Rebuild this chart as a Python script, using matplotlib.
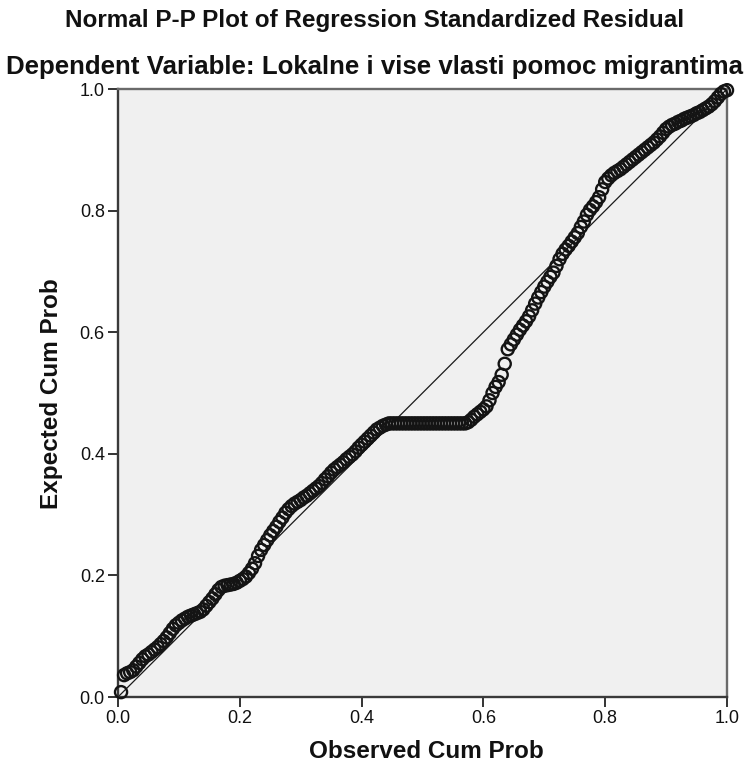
import matplotlib
matplotlib.use("Agg")
import matplotlib.pyplot as plt

plt.rcParams['font.family'] = ['Liberation Sans', 'DejaVu Sans']

# Observed cumulative probability of each standardized residual
observed_cum_prob = [
    0.005, 0.010, 0.015, 0.020, 0.025, 0.030, 0.035, 0.040, 0.045, 0.050,
    0.055, 0.060, 0.065, 0.070, 0.075, 0.080, 0.085, 0.090, 0.095, 0.100,
    0.105, 0.110, 0.115, 0.120, 0.125, 0.130, 0.135, 0.140, 0.145, 0.150,
    0.155, 0.160, 0.165, 0.170, 0.175, 0.180, 0.185, 0.190, 0.195, 0.200,
    0.205, 0.210, 0.215, 0.220, 0.225, 0.230, 0.235, 0.240, 0.245, 0.250,
    0.255, 0.260, 0.265, 0.270, 0.275, 0.280, 0.285, 0.290, 0.295, 0.300,
    0.305, 0.310, 0.315, 0.320, 0.325, 0.330, 0.335, 0.340, 0.345, 0.350,
    0.355, 0.360, 0.365, 0.370, 0.375, 0.380, 0.385, 0.390, 0.395, 0.400,
    0.405, 0.410, 0.415, 0.420, 0.425, 0.430, 0.435, 0.440, 0.445, 0.450,
    0.455, 0.460, 0.465, 0.470, 0.475, 0.480, 0.485, 0.490, 0.495, 0.500,
    0.505, 0.510, 0.515, 0.520, 0.525, 0.530, 0.535, 0.540, 0.545, 0.550,
    0.555, 0.560, 0.565, 0.570, 0.575, 0.580, 0.585, 0.590, 0.595, 0.600,
    0.605, 0.610, 0.615, 0.620, 0.625, 0.630, 0.635, 0.640, 0.645, 0.650,
    0.655, 0.660, 0.665, 0.670, 0.675, 0.680, 0.685, 0.690, 0.695, 0.700,
    0.705, 0.710, 0.715, 0.720, 0.725, 0.730, 0.735, 0.740, 0.745, 0.750,
    0.755, 0.760, 0.765, 0.770, 0.775, 0.780, 0.785, 0.790, 0.795, 0.800,
    0.805, 0.810, 0.815, 0.820, 0.825, 0.830, 0.835, 0.840, 0.845, 0.850,
    0.855, 0.860, 0.865, 0.870, 0.875, 0.880, 0.885, 0.890, 0.895, 0.900,
    0.905, 0.910, 0.915, 0.920, 0.925, 0.930, 0.935, 0.940, 0.945, 0.950,
    0.955, 0.960, 0.965, 0.970, 0.975, 0.980, 0.985, 0.990, 0.995, 1.000,
]

# Expected cumulative probability under the normal distribution
expected_cum_prob = [
    0.008, 0.036, 0.039, 0.041, 0.044, 0.050, 0.056, 0.062, 0.067, 0.070,
    0.074, 0.078, 0.082, 0.087, 0.092, 0.098, 0.105, 0.112, 0.118, 0.122,
    0.126, 0.129, 0.132, 0.134, 0.136, 0.138, 0.140, 0.144, 0.150, 0.156,
    0.162, 0.169, 0.176, 0.181, 0.183, 0.184, 0.185, 0.186, 0.188, 0.191,
    0.194, 0.198, 0.204, 0.211, 0.220, 0.232, 0.242, 0.250, 0.258, 0.266,
    0.273, 0.280, 0.288, 0.295, 0.303, 0.309, 0.314, 0.318, 0.321, 0.324,
    0.328, 0.331, 0.335, 0.339, 0.343, 0.347, 0.352, 0.358, 0.363, 0.369,
    0.374, 0.378, 0.382, 0.386, 0.391, 0.395, 0.399, 0.404, 0.410, 0.415,
    0.420, 0.425, 0.430, 0.435, 0.440, 0.443, 0.446, 0.448, 0.450, 0.450,
    0.450, 0.450, 0.450, 0.450, 0.450, 0.450, 0.450, 0.450, 0.450, 0.450,
    0.450, 0.450, 0.450, 0.450, 0.450, 0.450, 0.450, 0.450, 0.450, 0.450,
    0.450, 0.450, 0.450, 0.450, 0.452, 0.456, 0.461, 0.465, 0.469, 0.473,
    0.478, 0.488, 0.500, 0.510, 0.518, 0.530, 0.548, 0.572, 0.580, 0.588,
    0.596, 0.604, 0.611, 0.618, 0.626, 0.636, 0.647, 0.657, 0.666, 0.675,
    0.683, 0.691, 0.698, 0.709, 0.720, 0.729, 0.736, 0.742, 0.749, 0.756,
    0.763, 0.773, 0.782, 0.793, 0.801, 0.807, 0.814, 0.822, 0.835, 0.847,
    0.853, 0.858, 0.862, 0.865, 0.868, 0.872, 0.876, 0.880, 0.884, 0.888,
    0.892, 0.896, 0.900, 0.904, 0.908, 0.912, 0.917, 0.922, 0.928, 0.934,
    0.938, 0.941, 0.943, 0.946, 0.948, 0.951, 0.953, 0.955, 0.957, 0.960,
    0.962, 0.965, 0.968, 0.971, 0.975, 0.980, 0.986, 0.992, 0.996, 0.998,
]

tick_values = [0.0, 0.2, 0.4, 0.6, 0.8, 1.0]
tick_labels = ["0.0", "0.2", "0.4", "0.6", "0.8", "1.0"]

W, H = 749, 771
fig = plt.figure(figsize=(W / 100, H / 100), dpi=100)
fig.patch.set_facecolor("white")

# axes box in pixel coordinates: left 118, right 727, top 89, bottom 697
ax = fig.add_axes([118 / W, 1 - 697 / H, (727 - 118) / W, (697 - 89) / H])
ax.set_facecolor("#F0F0F0")

# reference line of perfect normality
ax.plot([0, 1], [0, 1], color="#1a1a1a", linewidth=0.9, zorder=2)

ax.scatter(observed_cum_prob, expected_cum_prob, s=76, facecolors="none",
           edgecolors="#141414", linewidths=1.7, zorder=3, clip_on=False)

ax.set_xlim(0, 1)
ax.set_ylim(0, 1)
ax.set_xticks(tick_values)
ax.set_xticklabels(tick_labels)
ax.set_yticks(tick_values)
ax.set_yticklabels(tick_labels)
ax.tick_params(axis="both", direction="out", length=7.5, width=1.4,
               color="#333333", labelsize=13, labelcolor="#111111", pad=2)

for side in ["left", "bottom"]:
    ax.spines[side].set_color("#3a3a3a")
    ax.spines[side].set_linewidth(1.7)
for side in ["top", "right"]:
    ax.spines[side].set_color("#6a6a6a")
    ax.spines[side].set_linewidth(1.7)

fig.text(426 / W, 1 - 752 / H, "Observed Cum Prob", ha="center", va="center",
         fontsize=17.5, fontweight="bold", color="#111111")
fig.text(52 / W, 1 - 394 / H, "Expected Cum Prob", ha="center", va="center",
         rotation=90, fontsize=17.5, fontweight="bold", color="#111111")

fig.text(375 / W, 1 - 20 / H,
         "Normal P-P Plot of Regression Standardized Residual",
         ha="center", va="center", fontsize=17.5, fontweight="bold",
         color="#111111")
fig.text(375 / W, 1 - 67 / H,
         "Dependent Variable: Lokalne i vise vlasti pomoc migrantima",
         ha="center", va="center", fontsize=18.6, fontweight="bold",
         color="#111111")

fig.savefig("out.png", dpi=100)
